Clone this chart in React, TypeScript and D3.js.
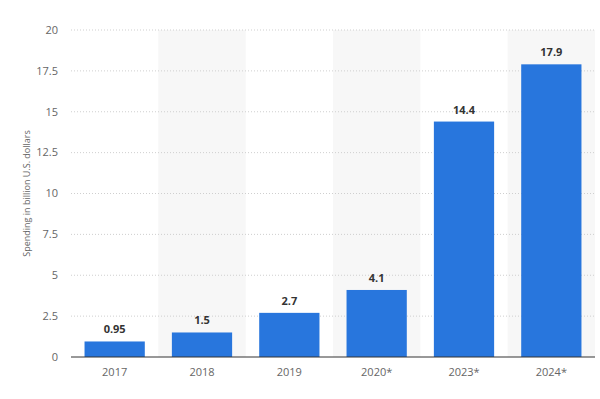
import React from 'react';
import * as d3 from 'd3';

const categories = ['2017', '2018', '2019', '2020*', '2023*', '2024*'];
const values = [0.95, 1.5, 2.7, 4.1, 14.4, 17.9];
const labels = ['0.95', '1.5', '2.7', '4.1', '14.4', '17.9'];
const yTicks = [0, 2.5, 5, 7.5, 10, 12.5, 15, 17.5, 20];

const App = () => {
  const width = 600;
  const height = 399;
  const margin = { top: 30, right: 5, bottom: 42, left: 71 };
  const innerW = width - margin.left - margin.right;
  const innerH = height - margin.top - margin.bottom;

  const band = d3.scaleBand().domain(categories).range([0, innerW]).padding(0);
  const x = d3.scaleBand().domain(categories).range([0, innerW]).paddingInner(0.31).paddingOuter(0.155);
  const y = d3.scaleLinear().domain([0, 20]).range([innerH, 0]);

  const font = '"Open Sans", Lato, sans-serif';

  return (
    <svg width={width} height={height} style={{ position: 'absolute', left: 0, top: 0 }} fontFamily={font}>
      <rect width={width} height={height} fill="#fff" />
      <g transform={`translate(${margin.left},${margin.top})`}>
        {/* alternating background bands */}
        {categories.map((c, i) => i % 2 === 1 && (
          <rect key={c} x={band(c)} y={0} width={band.bandwidth()} height={innerH} fill="#f7f7f7" />
        ))}
        {/* grid lines */}
        {yTicks.filter(t => t > 0).map(t => (
          <line key={t} x1={0} x2={innerW} y1={y(t)} y2={y(t)} stroke="#cfcfcf" strokeWidth={1} strokeDasharray="1,2" />
        ))}
        {yTicks.map(t => (
          <text key={t} x={-13} y={y(t)} dy="0.35em" textAnchor="end" fontSize={11} fill="#666">{t}</text>
        ))}
        {/* bars */}
        {categories.map((c, i) => (
          <g key={c}>
            <rect x={x(c)} y={y(values[i])} width={x.bandwidth()} height={innerH - y(values[i])} fill="#2876dd" />
            <text x={(x(c) ?? 0) + x.bandwidth() / 2} y={y(values[i]) - 8} textAnchor="middle" fontSize={11} fontWeight="bold" fill="#333">{labels[i]}</text>
            <text x={(band(c) ?? 0) + band.bandwidth() / 2} y={innerH + 19} textAnchor="middle" fontSize={11} fill="#666">{c}</text>
          </g>
        ))}
        <line x1={0} x2={innerW} y1={innerH} y2={innerH} stroke="#333" strokeWidth={1} />
      </g>
      <text transform={`translate(30,${margin.top + innerH / 2}) rotate(-90)`} textAnchor="middle" fontSize={9} fill="#666">Spending in billion U.S. dollars</text>
    </svg>
  );
};

export default App;
